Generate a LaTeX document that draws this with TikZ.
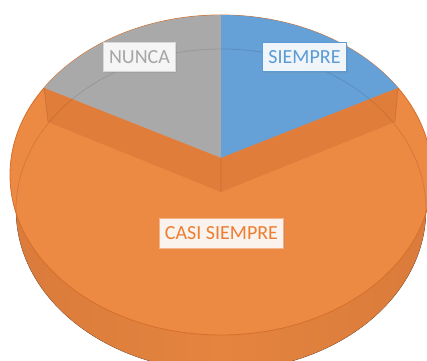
\documentclass[tikz,border=0pt]{standalone}
\usepackage{fontspec}
\setmainfont{Carlito}
\usetikzlibrary{shadows}
\definecolor{PieOrange}{HTML}{EC8943}
\definecolor{PieBand}{HTML}{E07D3B}
\definecolor{PieEdge}{HTML}{D5702C}
\definecolor{PieGray}{HTML}{A9A9A9}
\definecolor{PieBlue}{HTML}{65A0D6}
\definecolor{SideDark}{HTML}{A85626}
\definecolor{SideMid}{HTML}{D6773A}
\definecolor{SideLight}{HTML}{E4843F}
\definecolor{GrayText}{HTML}{A5A5A5}
\definecolor{GrayLine}{HTML}{D6D6D6}
\definecolor{BlueText}{HTML}{5B9BD5}
\definecolor{OrangeText}{HTML}{ED7D31}
\definecolor{OrangeLine}{HTML}{F3B48C}
\pgfdeclarehorizontalshading{pieside}{100bp}{color(0bp)=(SideDark); color(14bp)=(SideMid); color(50bp)=(SideLight); color(86bp)=(SideMid); color(100bp)=(SideDark)}
\begin{document}
\begin{tikzpicture}[x=0.75pt,y=0.75pt,
    tag/.style={fill=white,fill opacity=0.9,text opacity=1,line width=0.8pt,
      font=\fontsize{15}{18}\selectfont,inner xsep=4.4pt,minimum height=22pt,
      drop shadow={opacity=0.2,shadow xshift=1pt,shadow yshift=-1pt}},
    faint/.style={draw=black,draw opacity=0.1,line width=0.6pt}]
    \useasboundingbox (0,0) rectangle (427,360);
    \clip (0,0) rectangle (427,360);
    \coordinate (TopCenter)  at (221,185);
    \coordinate (BaseCenter) at (221,150);
    \coordinate (Apex)       at (221,202);
    \coordinate (ApexLow)    at (221,168);
    \coordinate (RimTop)     at (221,345);
    \coordinate (RimLeft)    at (44,272);
    \coordinate (RimRight)   at (398,272);
    \coordinate (BandLeft)   at (48,238);
    \coordinate (BandRight)  at (395,238);
    \fill [shading=pieside] (10,185) -- (16,150) arc[start angle=180,end angle=360,x radius=205,y radius=161] -- (432,185) -- cycle;% side wall
    \fill [PieOrange] (TopCenter) ellipse[x radius=211,y radius=160];% top face
    \draw [PieEdge,line width=0.6pt] (TopCenter) ellipse[x radius=211,y radius=160];
    \fill [PieGray] (Apex) -- (RimLeft) arc[start angle=147,end angle=90,x radius=211,y radius=160] -- cycle;
    \fill [PieBlue] (Apex) -- (RimTop) arc[start angle=90,end angle=33,x radius=211,y radius=160] -- cycle;
    \fill [PieBand] (RimLeft) -- (Apex) -- (RimRight) -- (BandRight) -- (ApexLow) -- (BandLeft) -- cycle;
    \draw [faint] (BaseCenter) ellipse[x radius=205,y radius=161];
    \draw [faint] (RimLeft) -- (BandLeft) (RimRight) -- (BandRight) (Apex) -- (ApexLow);
    \node [tag,draw=GrayLine,text=GrayText]     (Nunca)       at (139.5,303) {NUNCA};
    \node [tag,draw=BlueText,text=BlueText]     (Siempre)     at (304.5,303) {SIEMPRE};
    \node [tag,draw=OrangeLine,text=OrangeText] (CasiSiempre) at (221.5,126.5) {CASI SIEMPRE};
\end{tikzpicture}
\end{document}
